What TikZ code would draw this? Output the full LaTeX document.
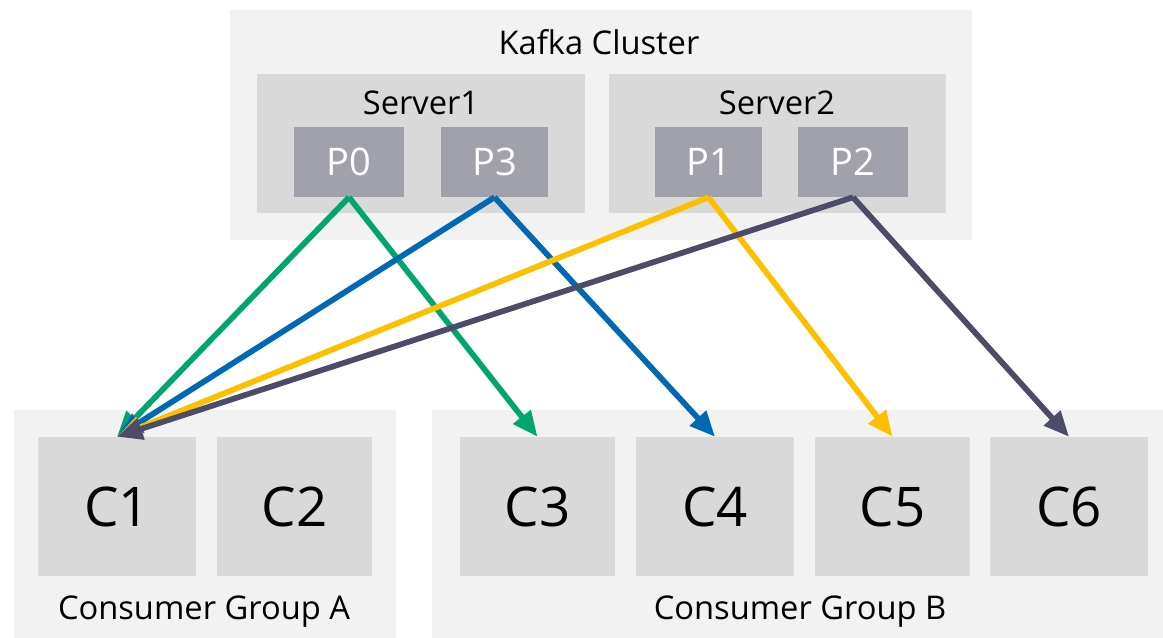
\documentclass[tikz,border=0pt]{standalone}
\usepackage{fontspec}
\setmainfont{Open Sans}
\usetikzlibrary{arrows.meta,fit}
\definecolor{bgA}{RGB}{242,242,242}
\definecolor{bgB}{RGB}{217,217,217}
\definecolor{pcol}{RGB}{161,161,171}
\definecolor{cgreen}{RGB}{0,166,110}
\definecolor{cblue}{RGB}{0,104,180}
\definecolor{cyellow}{RGB}{252,192,0}
\definecolor{cdark}{RGB}{76,76,104}
\tikzset{
  outerbox/.style={fill=bgA, draw=none, inner sep=0pt},
  serverbox/.style={fill=bgB, draw=none, inner sep=0pt},
  pbox/.style={fill=pcol, draw=none, inner sep=0pt, text=white, font=\fontsize{28.5}{31}\selectfont},
  cbox/.style={fill=bgB, draw=none, inner sep=0pt, font=\fontsize{41}{45}\selectfont},
  title/.style={inner sep=0pt, font=\fontsize{24.5}{28}\selectfont},
  grouptitle/.style={inner sep=0pt, font=\fontsize{24.5}{28}\selectfont},
  arr/.style={line width=4.3pt, -{Triangle[length=19pt,width=16pt]}},
}
\begin{document}
\begin{tikzpicture}[x=0.75pt,y=-0.75pt]
\useasboundingbox (0,0) rectangle (1163,638);
% Kafka cluster
\node[outerbox, fit={(230,10) (972,240)}] (kafka) {};
\node[title] (kafkat) at (599,42) {Kafka Cluster};
\node[serverbox, fit={(257,74) (585,213)}] (s1) {};
\node[title] (s1t) at (421,103) {Server1};
\node[serverbox, fit={(609,74) (946,213)}] (s2) {};
\node[title] (s2t) at (777,103) {Server2};
\node[pbox, fit={(294,127) (404,197)}] (p0) {};
\node[pbox, fit={(441,127) (548,197)}] (p3) {};
\node[pbox, fit={(655,127) (762,197)}] (p1) {};
\node[pbox, fit={(798,127) (908,197)}] (p2) {};
\node[pbox, fill=none] (p0t) at (p0) {P0};
\node[pbox, fill=none] (p3t) at (p3) {P3};
\node[pbox, fill=none] (p1t) at (p1) {P1};
\node[pbox, fill=none] (p2t) at (p2) {P2};
% Consumer groups
\node[outerbox, fit={(14,410) (396,638)}] (ga) {};
\node[outerbox, fit={(432,410) (1163,638)}] (gb) {};
\node[grouptitle] (gat) at (204,612) {Consumer Group A};
\node[grouptitle] (gbt) at (800,612) {Consumer Group B};
\node[cbox, fit={(38,437) (196,576)}] (c1) {};
\node[cbox, fit={(217,437) (372,576)}] (c2) {};
\node[cbox, fit={(460,437) (615,576)}] (c3) {};
\node[cbox, fit={(636,437) (794,576)}] (c4) {};
\node[cbox, fit={(815,437) (970,576)}] (c5) {};
\node[cbox, fit={(990,437) (1148,576)}] (c6) {};
\node[cbox, fill=none] (c1t) at (c1) {C1};
\node[cbox, fill=none] (c2t) at (c2) {C2};
\node[cbox, fill=none] (c3t) at (c3) {C3};
\node[cbox, fill=none] (c4t) at (c4) {C4};
\node[cbox, fill=none] (c5t) at (c5) {C5};
\node[cbox, fill=none] (c6t) at (c6) {C6};
% arrows
\draw[arr, cgreen] (p0.south) -- (c3.north);
\draw[arr, cblue] (p3.south) -- (c4.north);
\draw[arr, cyellow] (p1.south) -- (c5.north);
\draw[arr, cdark] (p2.south) -- (c6.north);
\draw[arr, cgreen] (p0.south) -- (c1.north);
\draw[arr, cblue] (p3.south) -- (c1.north);
\draw[arr, cyellow] (p1.south) -- (c1.north);
\draw[arr, cdark] (p2.south) -- (c1.north);
\end{tikzpicture}
\end{document}
